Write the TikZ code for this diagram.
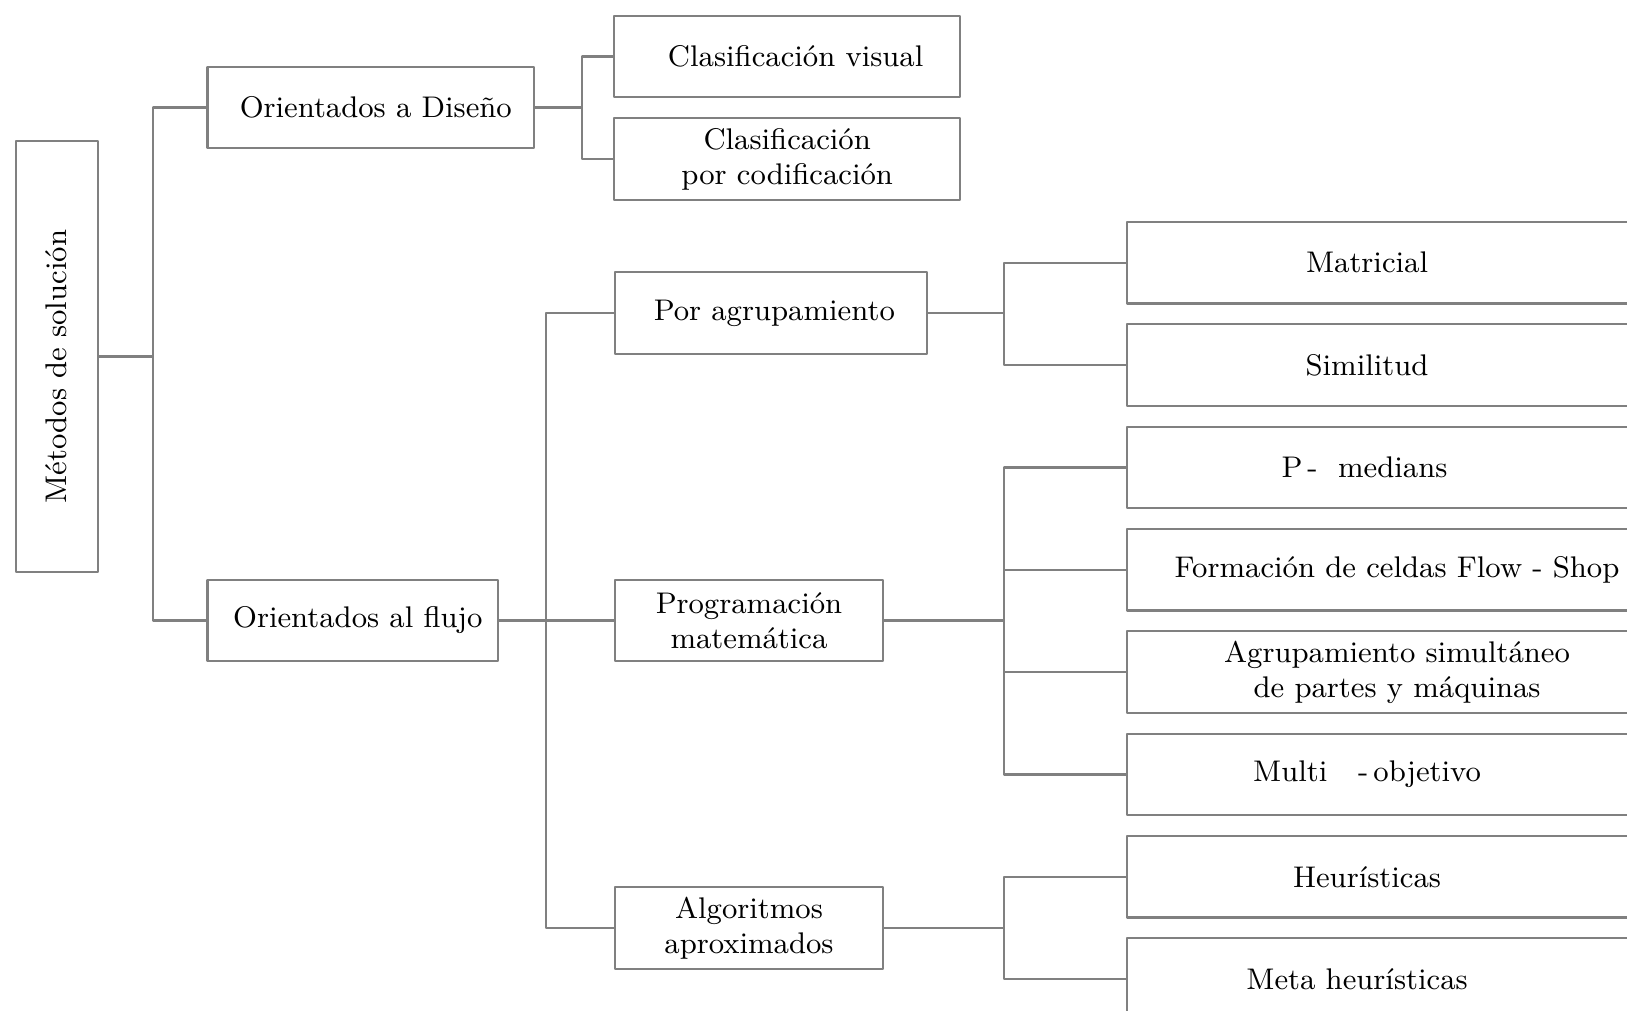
\documentclass[tikz,border=0pt]{standalone}
\usepackage{fontspec}
\usepackage{tikz}
\tikzset{
  every picture/.style={line join=round},
  box/.style={draw=gray, line width=0.6pt, minimum height=0.815cm, inner sep=2pt, align=center, font=\fontsize{8.5}{10}\selectfont},
  leaf/.style={box, anchor=west, minimum width=5.4cm},
  link/.style={draw=gray, line width=0.6pt},
}
\newcommand{\txtshift}[2]{\hspace*{#1}#2}

\begin{document}
\begin{tikzpicture}
\useasboundingbox (0,0) rectangle (16.27,-10.11);
\clip (0,0) rectangle (16.27,-10.11);
% left part
\node[box, minimum width=0.82cm, minimum height=4.31cm](root) at (0.566,-3.565) {\rotatebox{90}{\txtshift{-2mm}{Métodos de solución}}};
\node[box, minimum width=3.265cm](dis) at (3.708,-1.075) {\txtshift{1mm}{Orientados a Diseño}};
\node[box, minimum width=2.905cm](flu) at (3.528,-6.205) {\txtshift{1mm}{Orientados al flujo}};
\node[box, minimum width=3.457cm](cvis) at (7.872,-0.565) {\txtshift{1.7mm}{Clasificación visual}};
\node[box, minimum width=3.457cm](ccod) at (7.872,-1.592) {Clasificación\\por codificación};
\node[box, minimum width=3.116cm](agr) at (7.708,-3.13) {\txtshift{0.7mm}{Por agrupamiento}};
\node[box, minimum width=2.68cm](prg) at (7.49,-6.205) {Programación\\matemática};
\node[box, minimum width=2.68cm](alg) at (7.49,-9.28) {Algoritmos\\aproximados};
% right part
\node[leaf](mat) at (11.26,-2.628) {\txtshift{-6mm}{Matricial}};
\node[leaf](sim) at (11.26,-3.651) {\txtshift{-6mm}{Similitud}};
\node[leaf](pmed) at (11.26,-4.675) {\txtshift{-6.5mm}{P\,-\ \ medians}};
\node[leaf](fcs) at (11.26,-5.698) {Formación de celdas Flow - Shop};
\node[leaf](asp) at (11.26,-6.721) {Agrupamiento simultáneo\\de partes y máquinas};
\node[leaf](mob) at (11.26,-7.745) {\txtshift{-6mm}{Multi\ \ \ -\,objetivo}};
\node[leaf](heu) at (11.26,-8.768) {\txtshift{-6mm}{Heurísticas}};
\node[leaf](meta) at (11.26,-9.791) {\txtshift{-8mm}{Meta heurísticas}};
% connectors
\coordinate (j0) at (1.527,-3.565);
\coordinate (j1) at (5.817,-1.075);
\coordinate (j2) at (5.458,-6.205);
\coordinate (j3) at (10.04,-3.13);
\coordinate (j4) at (10.04,-6.205);
\coordinate (j5) at (10.04,-9.28);
\draw[link](root.east)--(j0)|-(dis.west);
\draw[link](j0)|-(flu.west);
\draw[link](dis.east)--(j1)|-(cvis.west);
\draw[link](j1)|-(ccod.west);
\draw[link](flu.east)--(j2)--(prg.west);
\draw[link](j2)|-(agr.west);
\draw[link](j2)|-(alg.west);
\draw[link](agr.east)--(j3)|-(mat.west);
\draw[link](j3)|-(sim.west);
\draw[link](prg.east)--(j4)|-(pmed.west);
\draw[link](j4)|-(fcs.west);
\draw[link](j4)|-(asp.west);
\draw[link](j4)|-(mob.west);
\draw[link](alg.east)--(j5)|-(heu.west);
\draw[link](j5)|-(meta.west);
\end{tikzpicture}
\end{document}
